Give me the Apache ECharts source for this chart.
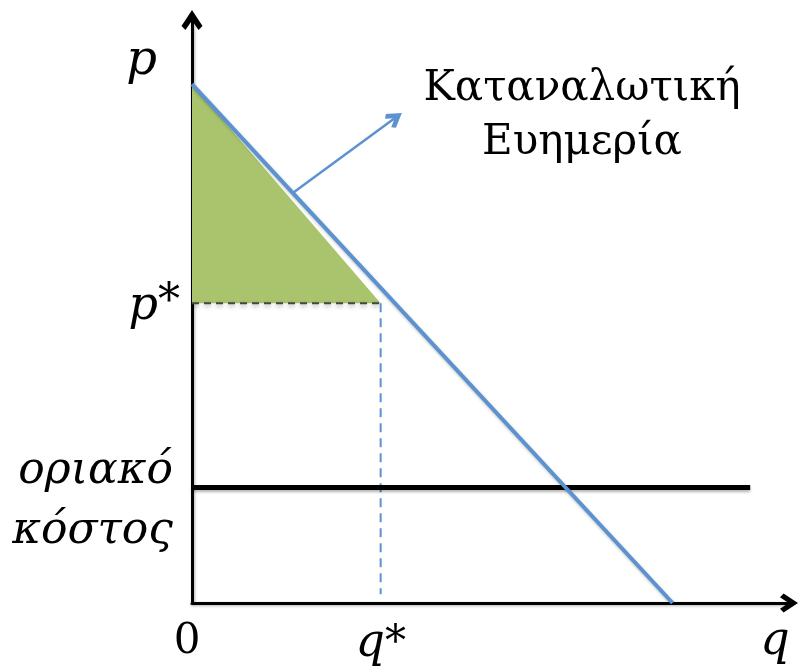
<!DOCTYPE html>
<html>
<head>
<meta charset="utf-8">
<script src="https://cdn.jsdelivr.net/npm/echarts@6/dist/echarts.min.js"></script>
<style>
  html, body { margin: 0; padding: 0; background: #fff; }
  #chart { width: 799px; height: 667px; }
</style>
</head>
<body>
<div id="chart"></div>
<script>
// data (q on x, p on y)
var pStar = 5.14;
var qStar = 3.16;
var mcLevel = 1.98;
var demandQ = [0, 8.05];
var demandP = [8.9, 0];
var mcQ = [0, 9.35];
var surplusQ = [0, qStar];
var surplusP = [8.9, pStar];
var arrowQ = [1.67, 3.4];
var arrowP = [7.02, 8.32];
var xTickValues = [0, qStar];
var xTickLabels = ['{z|0}', '{i|q}*'];
var yTickValues = [pStar, mcLevel];
var yTickLabels = ['{i|p}*', '{mc|οριακό\nκόστος}'];

var blue = '#5b92cf';
var serif = 'DejaVu Serif';
var chevron = 'path://M5,0 L10,7.6 L8.1,9.5 L5,5 L1.9,9.5 L0,7.6 Z';

function pairs(xs, ys) {
  var out = [];
  for (var i = 0; i < xs.length; i++) out.push([xs[i], ys[i]]);
  return out;
}

var chart = echarts.init(document.getElementById('chart'));

var option = {
  animation: false,
  grid: { left: 192, right: 10, top: 20, bottom: 62 },
  xAxis: {
    type: 'value', min: 0, max: 10,
    splitLine: { show: false },
    axisTick: { show: false },
    axisLine: {
      onZero: false,
      symbol: ['none', chevron], symbolSize: [22, 18],
      lineStyle: { color: '#000', width: 3, shadowColor: 'rgba(0,0,0,0.3)', shadowBlur: 3, shadowOffsetY: 1 }
    },
    axisLabel: {
      customValues: xTickValues,
      formatter: function (v) { return xTickLabels[xTickValues.indexOf(v)]; },
      margin: 18,
      color: '#000', fontFamily: serif, fontSize: 42,
      rich: {
        z: { fontFamily: serif, fontSize: 42, padding: [0, 10, 0, 0] },
        i: { fontStyle: 'italic', fontFamily: serif, fontSize: 46 }
      }
    },
    name: 'q',
    nameLocation: 'end',
    nameGap: -14,
    nameTextStyle: {
      color: '#000', fontFamily: serif, fontStyle: 'italic', fontSize: 46,
      align: 'center', verticalAlign: 'top', padding: [16, 0, 0, 0]
    }
  },
  yAxis: {
    type: 'value', min: 0, max: 10,
    splitLine: { show: false },
    axisTick: { show: false },
    axisLine: {
      onZero: false,
      symbol: ['none', chevron], symbolSize: [24, 20],
      lineStyle: { color: '#000', width: 3, shadowColor: 'rgba(0,0,0,0.3)', shadowBlur: 3, shadowOffsetX: 1 }
    },
    axisLabel: {
      customValues: yTickValues,
      formatter: function (v) { return yTickLabels[yTickValues.indexOf(v)]; },
      margin: 12,
      color: '#000', fontFamily: serif, fontSize: 44,
      rich: {
        i: { fontStyle: 'italic', fontFamily: serif, fontSize: 46, padding: [8, 0, 0, 0] },
        mc: { fontStyle: 'italic', fontFamily: serif, fontSize: 44, lineHeight: 60, padding: [28, 7, 0, 0] }
      }
    },
    name: 'p',
    nameLocation: 'end',
    nameGap: -42,
    nameTextStyle: {
      color: '#000', fontFamily: serif, fontStyle: 'italic', fontSize: 48,
      align: 'right', verticalAlign: 'middle', padding: [0, 35, 0, 0]
    }
  },
  graphic: [{
    type: 'text',
    x: 582, y: 62,
    style: {
      text: 'Καταναλωτική\nΕυημερία',
      fill: '#000',
      font: '42px "' + serif + '"',
      align: 'center',
      verticalAlign: 'top',
      lineHeight: 54
    }
  }],
  series: [
    {
      // consumer surplus triangle
      type: 'line',
      data: pairs(surplusQ, surplusP),
      symbol: 'none',
      lineStyle: { width: 0 },
      areaStyle: { color: '#a9c46c', opacity: 1, origin: pStar },
      z: 1
    },
    {
      type: 'line',
      data: [[0, pStar], [qStar, pStar]],
      symbol: 'none',
      lineStyle: { color: '#444', width: 2, type: [7, 5], shadowColor: 'rgba(0,0,0,0.4)', shadowBlur: 4, shadowOffsetY: 2 },
      z: 2
    },
    {
      type: 'line',
      data: [[qStar, pStar], [qStar, 0.15]],
      symbol: 'none',
      lineStyle: { color: blue, width: 2, type: [9, 6] },
      z: 2
    },
    {
      // marginal cost
      type: 'line',
      data: pairs(mcQ, [mcLevel, mcLevel]),
      symbol: 'none',
      lineStyle: { color: '#000', width: 5, shadowColor: 'rgba(0,0,0,0.3)', shadowBlur: 3, shadowOffsetY: 2 },
      z: 3
    },
    {
      // demand
      type: 'line',
      data: pairs(demandQ, demandP),
      symbol: 'none',
      lineStyle: { color: blue, width: 4, shadowColor: 'rgba(0,0,0,0.25)', shadowBlur: 3, shadowOffsetY: 1 },
      z: 4
    },
    {
      type: 'lines',
      coordinateSystem: 'cartesian2d',
      symbol: ['none', chevron],
      symbolSize: [20, 17],
      lineStyle: { color: blue, width: 2.5, opacity: 1 },
      itemStyle: { color: blue },
      data: [{ coords: pairs(arrowQ, arrowP) }],
      z: 5
    }
  ]
};

chart.setOption(option);
</script>
</body>
</html>
